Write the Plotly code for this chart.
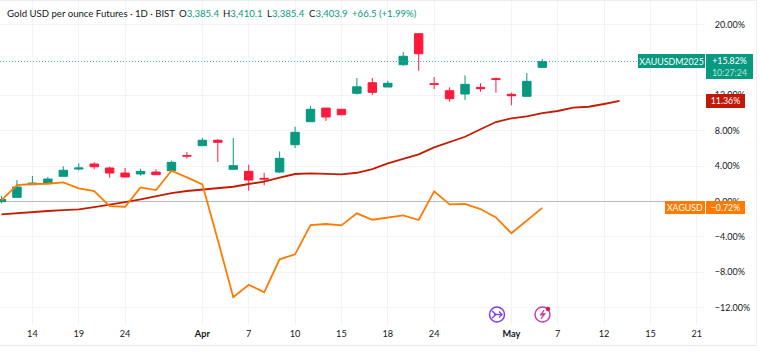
import plotly.graph_objects as go

bar_index = list(range(36))
opens = [-0.02,0.47,1.90,2.09,2.85,3.67,4.24,3.79,3.22,3.11,3.33,3.48,5.20,6.31,6.92,3.64,3.41,2.62,3.33,6.42,9.02,10.56,10.42,12.23,13.42,12.94,15.46,18.96,13.31,12.52,12.15,12.90,13.88,12.11,11.89,15.16]
highs = [0.62,2.43,2.88,2.77,3.98,4.32,4.43,3.93,3.79,3.71,3.64,4.61,5.59,7.18,7.06,7.18,4.16,3.25,5.67,8.45,10.79,10.56,10.42,13.95,13.95,13.65,16.89,18.96,14.07,12.90,14.26,13.36,13.99,12.29,14.52,16.10]
lows = [-0.20,0.47,1.90,2.09,2.85,3.53,3.64,2.69,2.77,2.92,3.03,3.48,4.84,6.31,4.46,3.56,1.22,1.83,3.22,6.05,9.02,9.10,9.74,12.07,12.03,12.94,15.34,14.78,12.71,11.28,11.47,12.41,12.29,10.87,11.89,15.16]
closes = [0.23,1.64,2.09,2.54,3.53,3.79,3.93,3.22,2.77,3.41,3.03,4.43,5.14,6.92,6.69,4.05,2.43,2.54,4.88,7.82,10.42,9.55,9.81,12.97,12.34,13.36,16.41,16.70,13.24,11.62,13.24,12.75,13.81,11.95,13.58,15.82]
xagusd = [0.17,1.86,1.98,2.01,2.17,1.49,1.19,-0.51,-0.59,1.60,1.30,3.48,2.73,1.94,-4.35,-10.82,-9.40,-10.26,-6.53,-5.97,-2.66,-2.54,-2.69,-1.33,-2.06,-1.83,-1.56,-2.09,1.15,-0.32,-0.28,-0.85,-1.79,-3.59,-2.17,-0.72]
avg_line = [-1.45,-1.30,-1.15,-1.07,-0.96,-0.88,-0.62,-0.36,-0.06,0.25,0.59,0.96,1.19,1.33,1.49,1.67,1.98,2.24,2.69,3.11,3.19,3.11,3.07,3.25,3.67,4.32,4.84,5.33,6.12,6.69,7.32,8.16,8.98,9.40,9.63,10.00,10.23,10.60,10.71,11.02,11.36]
x_tick_pos = [2,5,8,13,16,19,22,25,28,33,36,39,42,45]
x_tick_text = ["14","19","24","<b>Apr</b>","7","10","15","18","24","<b>May</b>","7","12","15","21"]
y_tick_vals = [20,12,8,4,0,-4,-8,-12]
y_tick_text = ["20.00%","12.00%","8.00%","4.00%","0.00%","−4.00%","−8.00%","−12.00%"]

GREEN, RED, ORANGE, DARKRED = "#089981", "#ff1a3c", "#ff7a00", "#c21d03"
FONT = "Lato"
PW, PH = 705.0, 325.0
px = lambda v: v / PW
py = lambda v: 1 - v / PH

fig = go.Figure()
fig.add_trace(go.Candlestick(x=bar_index, open=opens, high=highs, low=lows, close=closes, whiskerwidth=0,
    increasing=dict(line=dict(color=GREEN, width=1), fillcolor=GREEN),
    decreasing=dict(line=dict(color=RED, width=1), fillcolor=RED), showlegend=False))
fig.add_trace(go.Scatter(x=list(range(len(avg_line))), y=avg_line, mode="lines", line=dict(color=DARKRED, width=1.8), showlegend=False))
fig.add_trace(go.Scatter(x=bar_index, y=xagusd, mode="lines", line=dict(color=ORANGE, width=1.8), showlegend=False))

shapes = [
    dict(type="line", xref="paper", yref="y", x0=0, x1=px(638), y0=closes[-1], y1=closes[-1], line=dict(color="#3fb5a0", width=1, dash="1px,2px")),
    dict(type="line", xref="paper", yref="paper", x0=0, x1=px(756), y0=py(345.5), y1=py(345.5), line=dict(color="#e6e8ee", width=1)),
    dict(type="line", xref="paper", yref="paper", x0=px(756.5), x1=px(756.5), y0=py(0), y1=py(345.5), line=dict(color="#eceef3", width=1)),
    dict(type="line", xref="paper", yref="paper", x0=0, x1=px(756), y0=py(0.5), y1=py(0.5), line=dict(color="#eceef3", width=1)),
]

def circle(cx, cy, r, color, fill="white", w=1.5):
    return dict(type="circle", xref="paper", yref="paper", x0=px(cx - r), x1=px(cx + r), y0=py(cy + r), y1=py(cy - r),
                line=dict(color=color, width=w), fillcolor=fill)

def poly(points, color, w=1.3, fill=None, closed=False):
    p = "M " + " L ".join(f"{px(a):.5f},{py(b):.5f}" for a, b in points) + (" Z" if closed else "")
    d = dict(type="path", xref="paper", yref="paper", path=p, line=dict(color=color, width=w))
    if fill:
        d["fillcolor"] = fill
    return d

PURPLE, MAGENTA = "#7b3ff2", "#c23fb5"
shapes += [
    circle(497, 314.5, 7.5, PURPLE),
    poly([(492, 311), (496, 314.5), (492, 318)], PURPLE),
    poly([(494, 314.5), (502, 314.5)], PURPLE),
    poly([(499, 311.5), (502, 314.5), (499, 317.5)], PURPLE),
    circle(542.5, 314.5, 7.5, MAGENTA),
    poly([(544, 310), (540, 315), (543, 315), (541, 319), (545.5, 313.5), (542.5, 313.5)], MAGENTA, w=0.8, fill=MAGENTA, closed=True),
    circle(548, 309, 2.2, "#f0133c", fill="#f0133c", w=0),
]

def text(x, y, s, color="#131722", size=9.6, xanchor="left", **kw):
    return dict(xref="paper", yref="paper", x=px(x), y=py(y), text=s, showarrow=False, xanchor=xanchor, yanchor="middle",
                font=dict(family=FONT, size=size, color=color), **kw)

def box(x0, x1, y0, y1, s, bg, color="white", size=8.8):
    return dict(xref="paper", yref="paper", x=px(x0), y=py(y0), text=s, showarrow=False, xanchor="left", yanchor="top",
                width=x1 - x0, height=y1 - y0, bgcolor=bg, borderpad=0, borderwidth=0, align="center", valign="middle",
                font=dict(family=FONT, size=size, color=color))

annotations = [
    text(5, 13, "Gold USD per ounce Futures · 1D · BIST"),
    text(177, 13, f"O<span style='color:{GREEN}'>3,385.4</span>"),
    text(221, 13, f"H<span style='color:{GREEN}'>3,410.1</span>"),
    text(265, 13, f"L<span style='color:{GREEN}'>3,385.4</span>"),
    text(307, 13, f"C<span style='color:{GREEN}'>3,403.9</span>"),
    text(350, 13, "+66.5 (+1.99%)", color=GREEN),
    box(638, 705, 54, 68, "XAUUSDM2025", GREEN),
    box(706, 753, 54, 79, "+15.82%<br><span style='color:#b5e3d9'>10:27:24</span>", GREEN),
    box(706, 745, 94, 107.5, "11.36%", "#c21807"),
    box(665, 705, 201, 214, "XAGUSD", ORANGE),
    box(706, 745, 201, 214, "−0.72%", ORANGE),
]

fig.update_layout(
    width=760, height=351, margin=dict(l=0, r=55, t=0, b=26), autosize=False,
    paper_bgcolor="white", plot_bgcolor="white", showlegend=False, boxgap=0.22,
    shapes=shapes, annotations=annotations,
    font=dict(family=FONT, size=9, color="#131722"),
    xaxis=dict(range=[-0.097, 45.53], tickmode="array", tickvals=x_tick_pos, ticktext=x_tick_text, showgrid=True, gridcolor="#f1f3f8", gridwidth=1,
               rangeslider=dict(visible=False), zeroline=False, showline=False, ticks="", ticklabelstandoff=2,
               tickfont=dict(size=9.2, family=FONT, color="#131722")),
    yaxis=dict(range=[-13.95, 22.77], side="right", tickmode="array", tickvals=y_tick_vals, ticktext=y_tick_text, showgrid=True, gridcolor="#f1f3f8", gridwidth=1,
               zeroline=True, zerolinecolor="#b8bac2", zerolinewidth=1, showline=False, ticks="outside", ticklen=7, tickcolor="rgba(0,0,0,0)",
               tickfont=dict(size=9, family=FONT, color="#131722"), automargin=False),
)

fig.write_html("out.html", config=dict(displayModeBar=False),
               post_script="document.body.style.margin='0';document.body.style.overflow='hidden';")
